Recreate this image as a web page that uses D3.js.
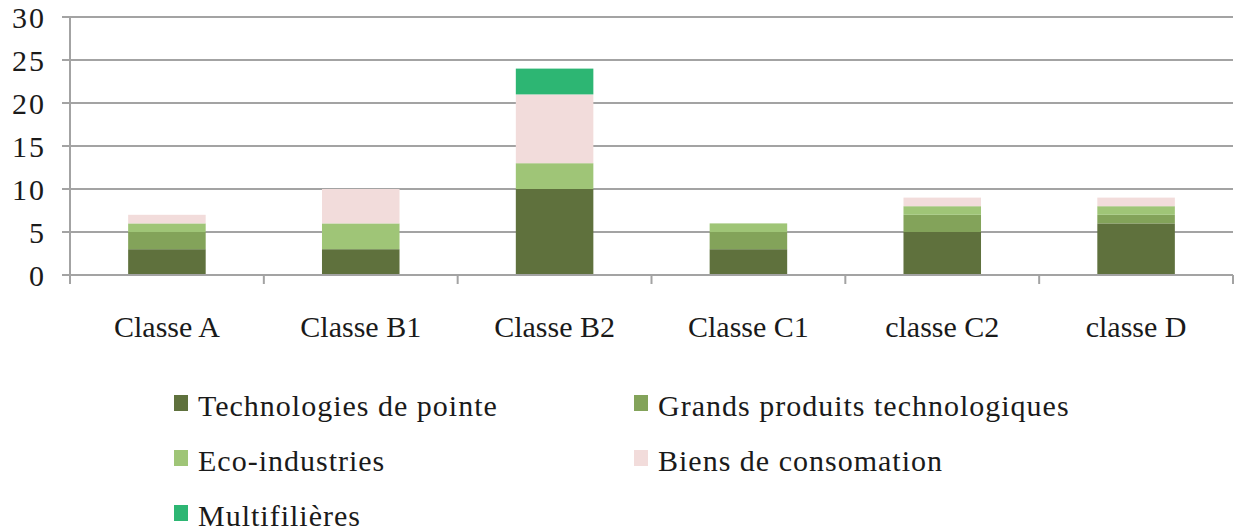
<!DOCTYPE html>
<html>
<head>
<meta charset="utf-8">
<script src="https://cdn.jsdelivr.net/npm/d3@7"></script>
<style>
  body { margin: 0; background: #fff; }
  text { font-family: "Liberation Serif", "DejaVu Serif", serif; fill: #1a1a1a; }
</style>
</head>
<body>
<script>
// data
var categories = ['Classe A', 'Classe B1', 'Classe B2', 'Classe C1', 'classe C2', 'classe D'];
var seriesNames = ['Technologies de pointe', 'Grands produits technologiques', 'Eco-industries', 'Biens de consomation', 'Multifilières'];
var seriesColors = ['#5f713d', '#83a35a', '#9fc577', '#f2dcdb', '#2db673'];
var technologies = [3, 3, 10, 3, 5, 6];
var grandsProduits = [2, 0, 0, 2, 2, 1];
var ecoIndustries = [1, 3, 3, 1, 1, 1];
var biens = [1, 4, 8, 0, 1, 1];
var multifilieres = [0, 0, 3, 0, 0, 0];
var yTicks = [0, 5, 10, 15, 20, 25, 30];

var rows = categories.map(function (c, i) {
    return {
        cat: c,
        'Technologies de pointe': technologies[i],
        'Grands produits technologiques': grandsProduits[i],
        'Eco-industries': ecoIndustries[i],
        'Biens de consomation': biens[i],
        'Multifilières': multifilieres[i]
    };
});

var W = 1241, H = 532;
var plot = {left: 70, right: 1233, top: 17, bottom: 275};

var svg = d3.select('body')
        .append('svg')
        .attr('width', W)
        .attr('height', H)
    ;

var x = d3.scaleBand()
    .domain(categories)
    .range([plot.left, plot.right])
    .paddingInner(0.6)
    .paddingOuter(0.3);

var y = d3.scaleLinear()
    .domain([0, 30])
    .range([plot.bottom, plot.top]);

//gridlines
svg.append('g')
    .selectAll('line')
    .data(yTicks)
    .join('line')
    .attr('x1', plot.left - 8)
    .attr('x2', plot.right)
    .attr('y1', function (d) { return y(d); })
    .attr('y2', function (d) { return y(d); })
    .style('stroke', '#a3a3a3')
    .style('stroke-width', 2);

//y labels
svg.append('g')
    .selectAll('text')
    .data(yTicks)
    .join('text')
    .attr('x', 46)
    .attr('y', function (d) { return y(d) + 11; })
    .attr('text-anchor', 'end')
    .style('font-size', '30px')
    .style('letter-spacing', '2px')
    .text(function (d) { return d; });

//stacked bars
var stack = d3.stack().keys(seriesNames)(rows);
svg.append('g')
    .selectAll('g')
    .data(stack)
    .join('g')
    .style('fill', function (d, i) { return seriesColors[i]; })
    .selectAll('rect')
    .data(function (d) { return d.filter(function (p) { return p[1] > p[0]; }); })
    .join('rect')
    .attr('x', function (d) { return x(d.data.cat); })
    .attr('width', x.bandwidth())
    .attr('y', function (d) { return y(d[1]); })
    .attr('height', function (d) { return y(d[0]) - y(d[1]); });

//axes lines
svg.append('line')
    .attr('x1', plot.left).attr('x2', plot.left)
    .attr('y1', plot.top).attr('y2', plot.bottom + 9)
    .style('stroke', '#a3a3a3').style('stroke-width', 2);

svg.append('line')
    .attr('x1', plot.left - 8).attr('x2', plot.right)
    .attr('y1', plot.bottom).attr('y2', plot.bottom)
    .style('stroke', '#a3a3a3').style('stroke-width', 2);

// x ticks at category boundaries
var step = x.step();
svg.append('g')
    .selectAll('line')
    .data(d3.range(categories.length + 1))
    .join('line')
    .attr('x1', function (i) { return plot.left + i * step; })
    .attr('x2', function (i) { return plot.left + i * step; })
    .attr('y1', plot.bottom)
    .attr('y2', plot.bottom + 9)
    .style('stroke', '#a3a3a3')
    .style('stroke-width', 2);

//category labels
svg.append('g')
    .selectAll('text')
    .data(categories)
    .join('text')
    .attr('x', function (d) { return x(d) + x.bandwidth() / 2; })
    .attr('y', 337)
    .attr('text-anchor', 'middle')
    .style('font-size', '30px')
    .text(function (d) { return d; });

//legend
var legendPos = [[174, 403], [634, 403], [174, 458], [634, 458], [174, 513]];
var legend = svg.append('g')
    .selectAll('g')
    .data(seriesNames)
    .join('g')
    .attr('transform', function (d, i) { return 'translate(' + legendPos[i][0] + ',' + legendPos[i][1] + ')'; });

legend.append('rect')
    .attr('x', 0)
    .attr('y', -8)
    .attr('width', 14)
    .attr('height', 16)
    .style('fill', function (d, i) { return seriesColors[i]; });

legend.append('text')
    .attr('x', 24)
    .attr('y', 13)
    .style('font-size', '30px')
    .style('letter-spacing', '1px')
    .text(function (d) { return d; });
</script>
</body>
</html>
